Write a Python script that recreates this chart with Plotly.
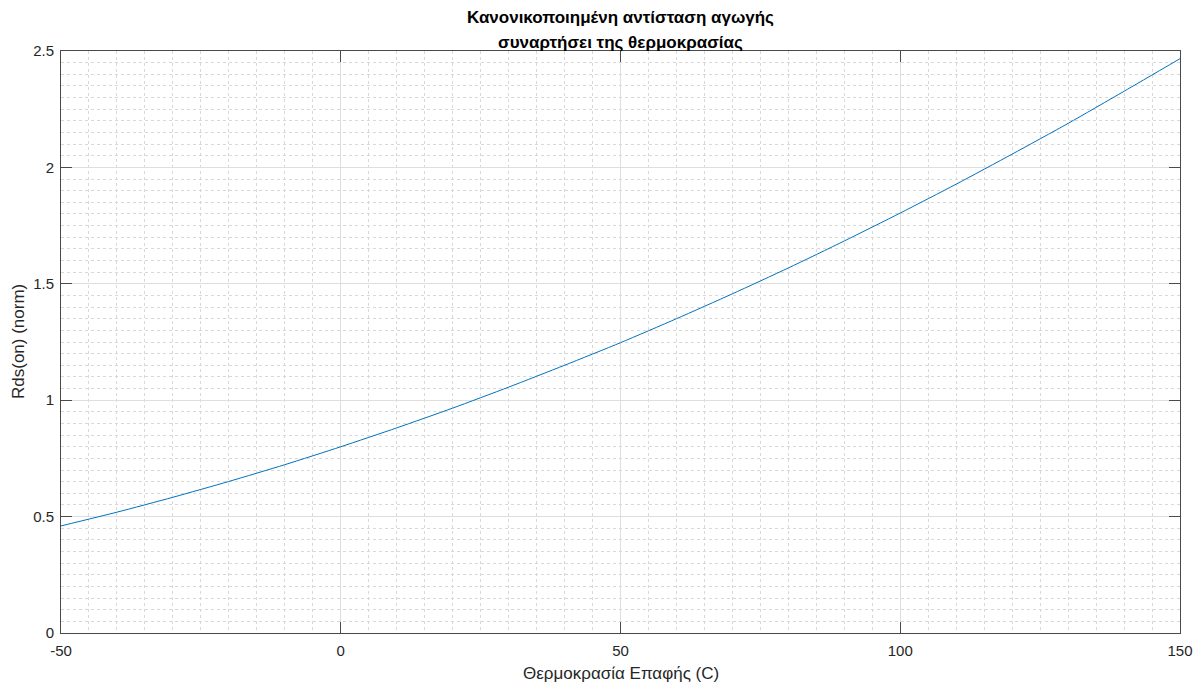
import plotly.graph_objects as go

# Junction temperature (°C) and normalised on-resistance
temperature_c = [-50, -40, -30, -20, -10, 0, 10, 20, 30, 40, 50,
                 60, 70, 80, 90, 100, 110, 120, 130, 140, 150]
rds_on_norm = [0.460, 0.519, 0.583, 0.651, 0.723, 0.800, 0.881, 0.966, 1.056, 1.150, 1.247,
               1.350, 1.457, 1.568, 1.684, 1.804, 1.928, 2.057, 2.189, 2.327, 2.467]

x_ticks = [-50, 0, 50, 100, 150]
y_ticks = [0, 0.5, 1, 1.5, 2, 2.5]
y_tick_text = ["0", "0.5", "1", "1.5", "2", "2.5"]

title_lines = ["Κανονικοποιημένη αντίσταση αγωγής", "συναρτήσει της θερμοκρασίας"]
x_title = "Θερμοκρασία Επαφής (C)"
y_title = "Rds(on) (norm)"

FONT = "Liberation Sans, Arial, sans-serif"
AXIS_COLOR = "#4a4a4a"
TEXT_COLOR = "#262626"

fig = go.Figure()
fig.add_trace(go.Scatter(
    x=temperature_c, y=rds_on_norm, mode="lines",
    line=dict(color="#0072BD", width=1, shape="spline", smoothing=0.6),
    showlegend=False, hoverinfo="x+y",
))

axis_common = dict(
    showline=True, linecolor=AXIS_COLOR, linewidth=1, mirror="ticks",
    ticks="inside", ticklen=11, tickcolor=AXIS_COLOR, tickwidth=1,
    showgrid=True, gridcolor="#dedede", gridwidth=1,
    zeroline=False, automargin=False,
    tickfont=dict(family=FONT, size=15, color=TEXT_COLOR),
)

fig.update_xaxes(
    range=[-50, 150], tickvals=x_ticks, ticktext=[str(v) for v in x_ticks],
    ticklabelstandoff=4,
    minor=dict(dtick=5, showgrid=True, gridcolor="#d8d8d8", griddash="dot", gridwidth=1, ticks=""),
    **axis_common,
)
fig.update_yaxes(
    range=[0, 2.5], tickvals=y_ticks, ticktext=y_tick_text,
    ticklabelstandoff=3,
    minor=dict(dtick=0.05, showgrid=True, gridcolor="#d8d8d8", griddash="dot", gridwidth=1, ticks=""),
    **axis_common,
)

plot_left, plot_right = 61, 1180
plot_top, plot_bottom = 51, 633
plot_h = plot_bottom - plot_top


def paper_y(px):
    return 1 + (plot_top - px) / plot_h


annotations = [
    dict(text=f"<b>{title_lines[0]}</b>", x=0.5, y=paper_y(18), xref="paper", yref="paper",
         xanchor="center", yanchor="middle", showarrow=False,
         font=dict(family=FONT, size=17, color="#000000")),
    dict(text=f"<b>{title_lines[1]}</b>", x=0.5, y=paper_y(42), xref="paper", yref="paper",
         xanchor="center", yanchor="middle", showarrow=False,
         font=dict(family=FONT, size=17, color="#000000")),
    dict(text=x_title, x=0.5, y=paper_y(673), xref="paper", yref="paper",
         xanchor="center", yanchor="middle", showarrow=False,
         font=dict(family=FONT, size=17, color=TEXT_COLOR)),
    dict(text=y_title, x=(18 - plot_left) / (plot_right - plot_left), y=0.5,
         xref="paper", yref="paper",
         xanchor="center", yanchor="middle", showarrow=False, textangle=-90,
         font=dict(family=FONT, size=17, color=TEXT_COLOR)),
]

fig.update_layout(
    width=1200, height=682,
    margin=dict(l=plot_left, r=1200 - plot_right, t=plot_top, b=682 - plot_bottom, pad=0),
    paper_bgcolor="white", plot_bgcolor="white",
    annotations=annotations,
    font=dict(family=FONT),
)

fig.write_html("out.html")
